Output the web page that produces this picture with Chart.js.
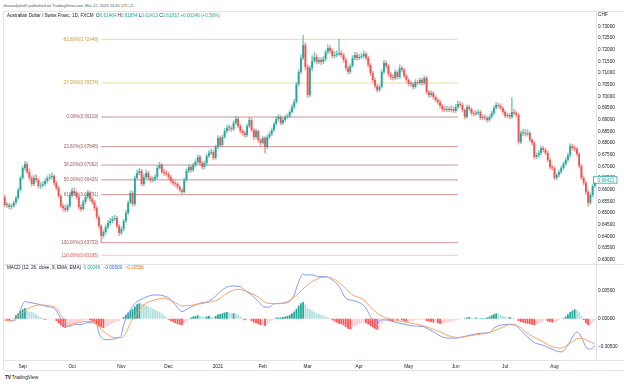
<!DOCTYPE html>
<html>
<head>
<meta charset="utf-8">
<title>AUDCHF 1D</title>
<script src="https://cdn.jsdelivr.net/npm/chart.js@4.4.1/dist/chart.umd.min.js"></script>
<style>
  html, body { margin: 0; padding: 0; background: #fff; }
  #page { position: relative; width: 624px; height: 385px; overflow: hidden; font-family: "Liberation Sans", Arial, sans-serif; color: #131722; }
  canvas { position: absolute; left: 0; }
  #priceCanvas { top: 11px; }
  #macdCanvas { top: 264px; }
  .t { position: absolute; white-space: nowrap; line-height: 1; }
  .rule { position: absolute; background: #e0e3eb; }
  .up { color: #26a69a; }
</style>
</head>
<body>
<div id="page">
  <div class="rule" style="left:3px;top:11px;width:621px;height:1px"></div>
  <div class="rule" style="left:3px;top:11px;width:1px;height:360px"></div>
  <div class="rule" style="left:3px;top:264px;width:621px;height:1px"></div>
  <div class="rule" style="left:3px;top:360px;width:621px;height:1px"></div>
  <div class="rule" style="left:3px;top:370px;width:621px;height:1px"></div>
  <canvas id="priceCanvas" width="624" height="253"></canvas>
  <canvas id="macdCanvas" width="624" height="108"></canvas>
  <div class="t" style="left:3px;top:4px;font-size:4px;color:#50535e">shanzuljohal5 published on TradingView.com, Mar 22, 2023 23:45 UTC+5</div>
  <div class="t" style="left:7px;top:14px;font-size:4.6px">Australian Dollar / Swiss Franc, 1D, FXCM &nbsp;O<span class="up">0.61464</span> H<span class="up">0.61894</span> L<span class="up">0.61413</span> C<span class="up">0.61810</span> <span class="up">+0.00346 (+0.56%)</span></div>
  <div class="t" style="left:598px;top:13px;font-size:4.7px">CHF</div>
  <div class="t" style="left:7px;top:266px;font-size:4.6px">MACD (12, 26, close, 9, EMA, EMA) &nbsp;<span class="up">0.00046</span> &nbsp;<span style="color:#2962ff">&minus;0.00509</span> &nbsp;<span style="color:#ff6d00">&minus;0.00556</span></div>
  <div class="t" style="left:5px;top:376px;font-size:4.8px;color:#131722"><b style="letter-spacing:-0.3px">TV</b> TradingView</div>
</div>
<script>
// daily candles, AUD/CHF, 20 Aug 2020 .. 26 Aug 2021
const firstOpen = 0.6569;
const closes = [
  0.6535, 0.6535, 0.6526, 0.6531, 0.6544, 0.6565, 0.6599, 0.6651, 0.6693, 0.6711,
  0.6676, 0.6651, 0.6625, 0.6651, 0.6642, 0.6616, 0.6621, 0.6625, 0.6638, 0.6651,
  0.6655, 0.6659, 0.6629, 0.6608, 0.6573, 0.6531, 0.6522, 0.6513, 0.6531, 0.6578,
  0.6595, 0.6586, 0.6569, 0.6526, 0.6518, 0.6548, 0.6569, 0.6586, 0.6561, 0.6548,
  0.6522, 0.6484, 0.6445, 0.6402, 0.6419, 0.6441, 0.6458, 0.6466, 0.6475, 0.6479,
  0.6445, 0.6415, 0.6432, 0.6466, 0.6501, 0.6544, 0.6586, 0.6539, 0.6651, 0.6672,
  0.6681, 0.6625, 0.6655, 0.6672, 0.6651, 0.6642, 0.6646, 0.6655, 0.6693, 0.6706,
  0.6676, 0.6672, 0.6668, 0.6655, 0.6638, 0.6629, 0.6625, 0.6612, 0.6599, 0.6591,
  0.6642, 0.6681, 0.6698, 0.6685, 0.6706, 0.6719, 0.6741, 0.6715, 0.6698, 0.6715,
  0.6745, 0.6758, 0.6762, 0.6736, 0.6783, 0.6822, 0.6792, 0.6826, 0.6852, 0.6865,
  0.6865, 0.6861, 0.6886, 0.6903, 0.6873, 0.6852, 0.6843, 0.6835, 0.6873, 0.6899,
  0.6856, 0.6826, 0.6852, 0.6813, 0.6801, 0.6822, 0.6783, 0.6826, 0.6839, 0.6856,
  0.6882, 0.6903, 0.6912, 0.6886, 0.6899, 0.6912, 0.6916, 0.6933, 0.6955, 0.6976,
  0.7053, 0.7105, 0.7165, 0.7220, 0.7126, 0.7006, 0.7122, 0.7152, 0.7169, 0.7148,
  0.7156, 0.7148, 0.7160, 0.7190, 0.7208, 0.7195, 0.7173, 0.7178, 0.7182, 0.7186,
  0.7178, 0.7156, 0.7122, 0.7105, 0.7130, 0.7165, 0.7178, 0.7165, 0.7169, 0.7173,
  0.7182, 0.7165, 0.7135, 0.7100, 0.7070, 0.7045, 0.7028, 0.7041, 0.7105, 0.7143,
  0.7130, 0.7096, 0.7083, 0.7079, 0.7105, 0.7083, 0.7122, 0.7113, 0.7088, 0.7070,
  0.7053, 0.7053, 0.7041, 0.7062, 0.7058, 0.7070, 0.7058, 0.7079, 0.7019, 0.7006,
  0.7015, 0.6998, 0.6985, 0.6976, 0.6959, 0.6946, 0.6942, 0.6946, 0.6942, 0.6946,
  0.6938, 0.6955, 0.6968, 0.6963, 0.6942, 0.6912, 0.6955, 0.6946, 0.6929, 0.6925,
  0.6929, 0.6933, 0.6908, 0.6912, 0.6908, 0.6899, 0.6912, 0.6929, 0.6950, 0.6963,
  0.6959, 0.6950, 0.6933, 0.6916, 0.6921, 0.6912, 0.6933, 0.6929, 0.6921, 0.6805,
  0.6843, 0.6843, 0.6839, 0.6843, 0.6813, 0.6801, 0.6741, 0.6749, 0.6758, 0.6779,
  0.6771, 0.6758, 0.6728, 0.6698, 0.6693, 0.6651, 0.6663, 0.6676, 0.6693, 0.6711,
  0.6728, 0.6749, 0.6788, 0.6779, 0.6775, 0.6753, 0.6702, 0.6651, 0.6629, 0.6591,
  0.6544, 0.6578, 0.6616, 0.66421
];
const highs = [
  0.6578, 0.6545, 0.6542, 0.6540, 0.6552, 0.6572, 0.6606, 0.6660, 0.6702, 0.6722,
  0.6718, 0.6690, 0.6660, 0.6662, 0.6665, 0.6650, 0.6632, 0.6636, 0.6647, 0.6660,
  0.6668, 0.6672, 0.6665, 0.6637, 0.6615, 0.6580, 0.6540, 0.6533, 0.6540, 0.6588,
  0.6606, 0.6608, 0.6595, 0.6575, 0.6537, 0.6556, 0.6578, 0.6598, 0.6594, 0.6570,
  0.6555, 0.6530, 0.6490, 0.6450, 0.6428, 0.6450, 0.6468, 0.6478, 0.6486, 0.6492,
  0.6486, 0.6452, 0.6442, 0.6475, 0.6512, 0.6553, 0.6596, 0.6595, 0.6660, 0.6685,
  0.6692, 0.6688, 0.6664, 0.6684, 0.6680, 0.6660, 0.6656, 0.6665, 0.6702, 0.6718,
  0.6712, 0.6688, 0.6682, 0.6675, 0.6662, 0.6646, 0.6638, 0.6632, 0.6618, 0.6605,
  0.6650, 0.6690, 0.6708, 0.6705, 0.6714, 0.6728, 0.6750, 0.6748, 0.6722, 0.6724,
  0.6754, 0.6768, 0.6775, 0.6770, 0.6792, 0.6832, 0.6830, 0.6835, 0.6862, 0.6876,
  0.6878, 0.6874, 0.6895, 0.6915, 0.6910, 0.6880, 0.6860, 0.6852, 0.6882, 0.6910,
  0.6906, 0.6862, 0.6860, 0.6858, 0.6820, 0.6830, 0.6828, 0.6834, 0.6848, 0.6865,
  0.6890, 0.6914, 0.6922, 0.6918, 0.6908, 0.6920, 0.6926, 0.6942, 0.6965, 0.6988,
  0.7062, 0.7115, 0.7178, 0.7262, 0.7230, 0.7135, 0.7130, 0.7175, 0.7190, 0.7182,
  0.7168, 0.7166, 0.7172, 0.7200, 0.7222, 0.7218, 0.7205, 0.7192, 0.7195, 0.7245,
  0.7196, 0.7186, 0.7165, 0.7130, 0.7140, 0.7175, 0.7190, 0.7188, 0.7180, 0.7186,
  0.7195, 0.7190, 0.7172, 0.7142, 0.7108, 0.7078, 0.7052, 0.7050, 0.7114, 0.7155,
  0.7152, 0.7138, 0.7104, 0.7094, 0.7114, 0.7112, 0.7135, 0.7130, 0.7120, 0.7095,
  0.7078, 0.7066, 0.7060, 0.7072, 0.7070, 0.7080, 0.7078, 0.7088, 0.7086, 0.7026,
  0.7024, 0.7022, 0.7005, 0.6992, 0.6983, 0.6966, 0.6958, 0.6960, 0.6956, 0.6962,
  0.6955, 0.6966, 0.6980, 0.6978, 0.6970, 0.6948, 0.6964, 0.6962, 0.6952, 0.6938,
  0.6938, 0.6944, 0.6940, 0.6922, 0.6920, 0.6915, 0.6920, 0.6938, 0.6960, 0.6975,
  0.6972, 0.6968, 0.6956, 0.6940, 0.6930, 0.6928, 0.6995, 0.6945, 0.6936, 0.6928,
  0.6852, 0.6860, 0.6858, 0.6858, 0.6850, 0.6820, 0.6808, 0.6758, 0.6768, 0.6788,
  0.6786, 0.6778, 0.6765, 0.6735, 0.6706, 0.6700, 0.6672, 0.6685, 0.6702, 0.6720,
  0.6738, 0.6758, 0.6798, 0.6795, 0.6788, 0.6782, 0.6760, 0.6710, 0.6660, 0.6636,
  0.6598, 0.6586, 0.6625, 0.6650
];
const lows = [
  0.6528, 0.6525, 0.6518, 0.6516, 0.6524, 0.6538, 0.6560, 0.6594, 0.6645, 0.6684,
  0.6668, 0.6640, 0.6615, 0.6618, 0.6633, 0.6608, 0.6605, 0.6612, 0.6617, 0.6630,
  0.6643, 0.6646, 0.6620, 0.6600, 0.6565, 0.6522, 0.6510, 0.6505, 0.6506, 0.6525,
  0.6570, 0.6577, 0.6560, 0.6518, 0.6508, 0.6512, 0.6540, 0.6562, 0.6552, 0.6538,
  0.6512, 0.6475, 0.6435, 0.6373, 0.6393, 0.6410, 0.6433, 0.6450, 0.6458, 0.6468,
  0.6437, 0.6405, 0.6408, 0.6425, 0.6460, 0.6495, 0.6538, 0.6530, 0.6532, 0.6645,
  0.6665, 0.6618, 0.6617, 0.6648, 0.6642, 0.6632, 0.6634, 0.6638, 0.6648, 0.6688,
  0.6668, 0.6662, 0.6658, 0.6645, 0.6628, 0.6620, 0.6615, 0.6603, 0.6590, 0.6582,
  0.6586, 0.6636, 0.6673, 0.6676, 0.6678, 0.6698, 0.6712, 0.6706, 0.6688, 0.6690,
  0.6708, 0.6738, 0.6750, 0.6728, 0.6730, 0.6776, 0.6784, 0.6786, 0.6820, 0.6845,
  0.6852, 0.6850, 0.6854, 0.6880, 0.6865, 0.6843, 0.6833, 0.6826, 0.6828, 0.6866,
  0.6848, 0.6815, 0.6820, 0.6804, 0.6790, 0.6795, 0.6758, 0.6776, 0.6818, 0.6832,
  0.6850, 0.6876, 0.6895, 0.6878, 0.6880, 0.6892, 0.6905, 0.6910, 0.6928, 0.6948,
  0.6970, 0.7045, 0.7098, 0.7158, 0.7115, 0.6995, 0.6998, 0.7110, 0.7145, 0.7138,
  0.7140, 0.7136, 0.7140, 0.7152, 0.7182, 0.7185, 0.7165, 0.7165, 0.7170, 0.7175,
  0.7168, 0.7146, 0.7112, 0.7095, 0.7098, 0.7125, 0.7158, 0.7155, 0.7158, 0.7162,
  0.7165, 0.7155, 0.7125, 0.7090, 0.7060, 0.7035, 0.7018, 0.7020, 0.7035, 0.7098,
  0.7120, 0.7086, 0.7072, 0.7070, 0.7072, 0.7074, 0.7076, 0.7104, 0.7080, 0.7060,
  0.7044, 0.7042, 0.7032, 0.7034, 0.7048, 0.7050, 0.7048, 0.7050, 0.7010, 0.6996,
  0.6998, 0.6988, 0.6975, 0.6966, 0.6950, 0.6936, 0.6934, 0.6935, 0.6934, 0.6936,
  0.6930, 0.6932, 0.6948, 0.6954, 0.6934, 0.6904, 0.6906, 0.6938, 0.6920, 0.6916,
  0.6918, 0.6922, 0.6900, 0.6900, 0.6898, 0.6890, 0.6892, 0.6905, 0.6922, 0.6945,
  0.6950, 0.6942, 0.6925, 0.6908, 0.6910, 0.6904, 0.6906, 0.6920, 0.6912, 0.6795,
  0.6798, 0.6832, 0.6830, 0.6830, 0.6805, 0.6792, 0.6732, 0.6733, 0.6740, 0.6750,
  0.6762, 0.6750, 0.6720, 0.6690, 0.6684, 0.6642, 0.6645, 0.6656, 0.6670, 0.6686,
  0.6704, 0.6722, 0.6742, 0.6770, 0.6765, 0.6745, 0.6694, 0.6642, 0.6620, 0.6580,
  0.6530, 0.6538, 0.6570, 0.6610
];

// MACD histogram, one value per candle
const hist = [
  -0.0001, -0.0002, -0.0003, -0.0002, 0.0001, 0.0006, 0.0010, 0.0014, 0.0017, 0.0019,
  0.0015, 0.0013, 0.0012, 0.0010, 0.0008, 0.0005, 0.0003, -0.0001, -0.0002, -0.0002,
  -0.0001, -0.0001, -0.0001, -0.0004, -0.0008, -0.0012, -0.0015, -0.0017, -0.0016, -0.0014,
  -0.0012, -0.0010, -0.0008, -0.0006, -0.0005, -0.0004, -0.0003, -0.0002, -0.0003, -0.0005,
  -0.0007, -0.0010, -0.0013, -0.0016, -0.0017, -0.0015, -0.0013, -0.0010, -0.0008, -0.0006,
  -0.0004, -0.0004, -0.0002, 0.0003, 0.0007, 0.0011, 0.0015, 0.0017, 0.0022, 0.0026,
  0.0028, 0.0027, 0.0026, 0.0024, 0.0022, 0.0020, 0.0018, 0.0016, 0.0014, 0.0012,
  0.0009, 0.0006, 0.0003, -0.0002, -0.0004, -0.0006, -0.0008, -0.0010, -0.0011, -0.0012,
  -0.0008, -0.0005, -0.0002, 0.0002, 0.0004, 0.0005, 0.0006, 0.0005, 0.0004, 0.0003,
  0.0004, 0.0005, 0.0004, 0.0003, 0.0005, 0.0008, 0.0008, 0.0010, 0.0011, 0.0012,
  0.0011, 0.0010, 0.0010, 0.0009, 0.0007, 0.0004, -0.0001, -0.0003, -0.0002, -0.0001,
  -0.0004, -0.0007, -0.0008, -0.0010, -0.0012, -0.0012, -0.0013, -0.0010, -0.0007, -0.0004,
  -0.0002, 0.0002, 0.0002, 0.0002, 0.0003, 0.0004, 0.0005, 0.0007, 0.0010, 0.0013,
  0.0018, 0.0024, 0.0028, 0.0030, 0.0025, 0.0019, 0.0017, 0.0014, 0.0012, 0.0010,
  0.0008, 0.0007, 0.0005, 0.0004, 0.0002, 0.0001, -0.0003, -0.0005, -0.0007, -0.0009,
  -0.0010, -0.0012, -0.0015, -0.0018, -0.0019, -0.0016, -0.0014, -0.0012, -0.0010, -0.0008,
  -0.0007, -0.0008, -0.0010, -0.0013, -0.0016, -0.0018, -0.0020, -0.0019, -0.0010, -0.0004,
  -0.0002, -0.0003, -0.0004, -0.0005, -0.0003, -0.0004, -0.0002, -0.0003, -0.0004, -0.0005,
  -0.0005, -0.0004, -0.0004, -0.0003, -0.0003, -0.0002, -0.0002, -0.0002, -0.0004, -0.0005,
  -0.0006, -0.0007, -0.0007, -0.0008, -0.0009, -0.0009, -0.0008, -0.0007, -0.0006, -0.0005,
  -0.0004, -0.0003, -0.0002, -0.0001, -0.0001, 0.0001, 0.0002, 0.0003, 0.0002, 0.0001,
  0.0002, 0.0001, 0.0001, 0.0001, 0.0001, 0.0002, 0.0004, 0.0006, 0.0008, 0.0010,
  0.0009, 0.0007, 0.0005, 0.0004, 0.0003, 0.0003, 0.0002, 0.0001, 0.0000, -0.0004,
  -0.0006, -0.0007, -0.0008, -0.0009, -0.0010, -0.0011, -0.0012, -0.0010, -0.0008, -0.0007,
  -0.0005, -0.0004, -0.0005, -0.0006, -0.0007, -0.0006, -0.0004, -0.0003, -0.0001, 0.0001,
  0.0004, 0.0008, 0.0012, 0.0015, 0.0017, 0.0016, 0.0012, 0.0005, -0.0003, -0.0008,
  -0.0012, -0.0010, -0.0006, -0.0003
];

// MACD and signal lines, read at these candle indexes
const macdAt = [0, 3, 6, 7, 9, 10, 13, 16, 19, 22, 24, 26, 29, 31, 34, 36, 38, 41, 42, 44,
  46, 48, 50, 52, 53, 55, 57, 59, 62, 65, 68, 71, 74, 76, 79, 82, 84, 87, 90, 93,
  96, 99, 102, 105, 107, 110, 113, 116, 118, 120, 124, 127, 129, 131, 133, 134, 137, 140, 143, 146,
  149, 152, 155, 158, 161, 163, 166, 167, 169, 173, 176, 179, 182, 186, 189, 192, 195, 198, 201, 204,
  208, 213, 216, 218, 222, 227, 229, 232, 236, 240, 245, 248, 251, 253, 255, 257, 259, 261, 263];
const macdLine = [-0.0003, -0.0004, 0.0004, 0.0016, 0.0031, 0.0030, 0.0028, 0.0025, 0.0022, 0.0019,
  0.0007, -0.0008, -0.0014, -0.0010, -0.0011, -0.0008, -0.0007, -0.0011, -0.0026, -0.0037,
  -0.0038, -0.0037, -0.0035, -0.0029, -0.0011, 0.0007, 0.0022, 0.0031, 0.0037, 0.0042,
  0.0043, 0.0041, 0.0035, 0.0025, 0.0013, 0.0019, 0.0023, 0.0028, 0.0030, 0.0037,
  0.0049, 0.0057, 0.0059, 0.0058, 0.0051, 0.0043, 0.0031, 0.0021, 0.0021, 0.0027,
  0.0028, 0.0031, 0.0043, 0.0067, 0.0081, 0.0079, 0.0079, 0.0076, 0.0076, 0.0070,
  0.0058, 0.0037, 0.0033, 0.0029, 0.0019, 0.0004, -0.0010, -0.0004, -0.0002, -0.0005,
  -0.0008, -0.0011, -0.0013, -0.0014, -0.0019, -0.0026, -0.0033, -0.0035, -0.0035, -0.0033,
  -0.0029, -0.0026, -0.0025, -0.0017, -0.0011, -0.0010, -0.0017, -0.0029, -0.0043, -0.0048,
  -0.0057, -0.0060, -0.0048, -0.0033, -0.0024, -0.0033, -0.0051, -0.0055, -0.0049];
const signalAt = [0, 3, 7, 10, 13, 16, 20, 23, 26, 29, 32, 37, 40, 43, 46, 49, 52, 54, 56, 59,
  62, 67, 71, 76, 79, 84, 90, 95, 99, 104, 108, 113, 117, 122, 126, 131, 134, 137, 142, 146,
  151, 155, 160, 163, 167, 172, 176, 181, 185, 189, 194, 198, 202, 207, 212, 216, 221, 225, 229, 234,
  240, 245, 248, 252, 256, 259, 263];
const signalLine = [-0.0003, -0.0004, 0.0007, 0.0017, 0.0023, 0.0025, 0.0023, 0.0019, 0.0001, -0.0011,
  -0.0008, -0.0005, -0.0008, -0.0019, -0.0029, -0.0034, -0.0034, -0.0026, -0.0008, 0.0010,
  0.0025, 0.0034, 0.0037, 0.0029, 0.0023, 0.0025, 0.0029, 0.0034, 0.0046, 0.0053,
  0.0049, 0.0039, 0.0028, 0.0027, 0.0031, 0.0046, 0.0058, 0.0067, 0.0075, 0.0073,
  0.0058, 0.0043, 0.0034, 0.0021, 0.0007, -0.0001, -0.0004, -0.0008, -0.0011, -0.0016,
  -0.0024, -0.0031, -0.0034, -0.0031, -0.0028, -0.0025, -0.0017, -0.0011, -0.0014, -0.0029,
  -0.0042, -0.0052, -0.0053, -0.0044, -0.0035, -0.0038, -0.0046];

// fibonacci retracement drawn from the October low
const fibRatios = [-61.8, -27.0, 0, 23.6, 38.2, 50.0, 61.8, 100.0, 110.0];
const fibPrices = [0.72448, 0.70574, 0.69119, 0.67848, 0.67062, 0.66426, 0.65791, 0.63733, 0.63195];
const fibFrom = 43, fibTo = 202;

const priceTicks = [0.63, 0.635, 0.64, 0.645, 0.65, 0.655, 0.66, 0.665, 0.67, 0.675, 0.68,
  0.685, 0.69, 0.695, 0.70, 0.705, 0.71, 0.715, 0.72, 0.725, 0.73];
const macdTicks = [-0.005, 0, 0.005];

const monthNames = ['Jan', 'Feb', 'Mar', 'Apr', 'May', 'Jun', 'Jul', 'Aug', 'Sep', 'Oct', 'Nov', 'Dec'];
const holidays = ['2020-12-25', '2021-01-01'];

// trading days (weekdays minus the two holidays)
const dates = [];
for (let d = new Date(Date.UTC(2020, 7, 20)); dates.length < closes.length; d.setUTCDate(d.getUTCDate() + 1)) {
  const iso = d.toISOString().slice(0, 10);
  const wd = d.getUTCDay();
  if (wd === 0 || wd === 6 || holidays.includes(iso)) continue;
  dates.push(iso);
}

function monthLabel(i) {
  if (i === 0) return null;
  if (dates[i].slice(5, 7) === dates[i - 1].slice(5, 7)) return null;
  const m = +dates[i].slice(5, 7) - 1;
  return m === 0 ? dates[i].slice(0, 4) : monthNames[m];
}

const UP = '#26a69a', DOWN = '#ef5350';
const opens = closes.map((c, i) => i === 0 ? firstOpen : closes[i - 1]);
const candleColors = closes.map((c, i) => c >= opens[i] ? UP : DOWN);
const wickColors = closes.map((c, i) => c >= opens[i] ? 'rgba(38,166,154,0.55)' : 'rgba(239,83,80,0.55)');

const histColors = hist.map((h, i) => {
  const prev = i > 0 ? hist[i - 1] : 0;
  if (h >= 0) return h >= prev ? '#26a69a' : '#b2dfdb';
  return h < prev ? '#ff5252' : '#ffcdd2';
});

function fibLineColor(r) {
  if (r < 0) return '#efd9a0';
  if (r > 100) return '#f3c4c4';
  return '#c99393';
}
function fibTextColor(r) {
  if (r < 0) return '#c9a12c';
  if (r > 100) return '#e2554f';
  return '#9a5b5b';
}

const FONT = '"Liberation Sans", Arial, sans-serif';
Chart.defaults.font.family = FONT;
Chart.defaults.color = '#131722';

const fibLabels = {
  id: 'fibLabels',
  afterDatasetsDraw(chart) {
    const { ctx, scales: { x, y } } = chart;
    ctx.save();
    ctx.font = '4.5px ' + FONT;
    ctx.textAlign = 'right';
    ctx.textBaseline = 'middle';
    fibRatios.forEach((r, k) => {
      ctx.fillStyle = fibTextColor(r);
      const txt = r.toFixed(2) + '%(' + fibPrices[k].toFixed(5) + ')';
      ctx.fillText(txt, x.getPixelForValue(fibFrom) - 3, y.getPixelForValue(fibPrices[k]));
    });
    ctx.restore();
  }
};

const lastPriceTag = {
  id: 'lastPriceTag',
  afterDraw(chart) {
    const { ctx, scales: { y } } = chart;
    const v = closes[closes.length - 1];
    const py = y.getPixelForValue(v);
    ctx.save();
    ctx.fillStyle = '#fff';
    ctx.strokeStyle = UP;
    ctx.lineWidth = 0.8;
    ctx.fillRect(y.left - 2.5, py - 3.2, 23.5, 6.4);
    ctx.strokeRect(y.left - 2.5, py - 3.2, 23.5, 6.4);
    ctx.fillStyle = UP;
    ctx.font = '4.7px ' + FONT;
    ctx.textBaseline = 'middle';
    ctx.fillText(v.toFixed(5), y.left + 1.5, py + 0.3);
    ctx.restore();
  }
};

const fibSets = fibRatios.map((r, k) => ({
  type: 'line',
  data: [{ x: dates[fibFrom], y: fibPrices[k] }, { x: dates[fibTo], y: fibPrices[k] }],
  borderColor: fibLineColor(r),
  borderWidth: 1,
  pointRadius: 0,
  order: 5
}));

function rightAxis(min, max, tickList) {
  return {
    position: 'right',
    min, max,
    afterFit(s) { s.width = 28; s.paddingTop = 0; s.paddingBottom = 0; },
    afterBuildTicks(s) { s.ticks = tickList.map(v => ({ value: v })); },
    grid: { display: false, drawTicks: false },
    border: { display: true, color: '#e0e3eb' },
    ticks: { font: { size: 4.7 }, padding: 2, callback: v => v.toFixed(5).replace('-', '\u2212') }
  };
}

new Chart(document.getElementById('priceCanvas'), {
  type: 'bar',
  data: {
    labels: dates,
    datasets: [
      {
        data: closes.map((c, i) => [opens[i], c]),
        backgroundColor: candleColors,
        barPercentage: 0.8,
        categoryPercentage: 1,
        minBarLength: 1,
        grouped: false,
        order: 1
      },
      {
        data: closes.map((c, i) => [lows[i], highs[i]]),
        backgroundColor: wickColors,
        barThickness: 1,
        grouped: false,
        order: 2
      },
      ...fibSets
    ]
  },
  options: {
    responsive: false,
    animation: false,
    devicePixelRatio: 1,
    layout: { padding: { left: 3.6, right: 0, top: 0, bottom: 0 } },
    plugins: { legend: { display: false }, tooltip: { enabled: false } },
    scales: {
      x: { display: false, offset: true },
      y: rightAxis(0.62821, 0.73661, priceTicks)
    }
  },
  plugins: [fibLabels, lastPriceTag]
});

new Chart(document.getElementById('macdCanvas'), {
  type: 'bar',
  data: {
    labels: dates,
    datasets: [
      {
        type: 'line',
        data: signalAt.map((i, k) => ({ x: dates[i], y: signalLine[k] })),
        borderColor: '#f9a267',
        borderWidth: 1,
        pointRadius: 0,
        cubicInterpolationMode: 'monotone',
        order: 1
      },
      {
        type: 'line',
        data: macdAt.map((i, k) => ({ x: dates[i], y: macdLine[k] })),
        borderColor: '#7f9bf7',
        borderWidth: 1,
        pointRadius: 0,
        cubicInterpolationMode: 'monotone',
        order: 2
      },
      {
        data: hist,
        backgroundColor: histColors,
        barPercentage: 0.8,
        categoryPercentage: 1,
        order: 3
      }
    ]
  },
  options: {
    responsive: false,
    animation: false,
    devicePixelRatio: 1,
    layout: { padding: { left: 3.6, right: 0, top: 0, bottom: 0 } },
    plugins: { legend: { display: false }, tooltip: { enabled: false } },
    scales: {
      x: {
        offset: true,
        afterFit(s) { s.height = 12; s.paddingLeft = 0; s.paddingRight = 0; },
        grid: { display: false, drawTicks: false },
        border: { display: false },
        ticks: { autoSkip: false, maxRotation: 0, font: { size: 4.7 }, padding: 3.5, callback: (v, i) => monthLabel(i) }
      },
      y: rightAxis(-0.007455, 0.009873, macdTicks)
    }
  }
});
</script>
</body>
</html>
